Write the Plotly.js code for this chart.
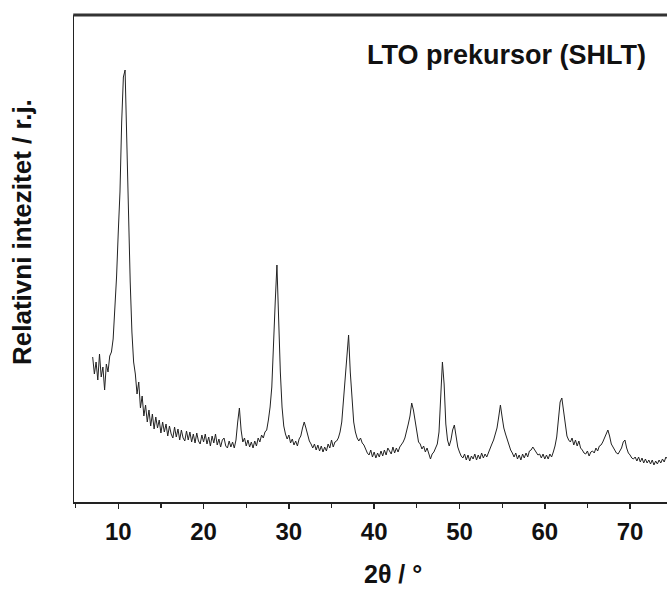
<!DOCTYPE html>
<html>
<head>
<meta charset="utf-8">
<script src="https://cdn.plot.ly/plotly-3.0.1.min.js"></script>
<style>html,body{margin:0;padding:0;background:#fff;}#chart{width:667px;height:592px;}</style>
</head>
<body>
<div id="chart"></div>
<script>
// 2θ scan positions (degrees)
const twoTheta = [
7.0,7.2,7.4,7.6,7.8,8.0,8.2,8.4,8.6,8.8,9.0,9.2,9.4,9.6,9.8,10.0,10.2,10.4,10.6,10.8,
11.0,11.2,11.4,11.6,11.8,12.0,12.2,12.4,12.6,12.8,13.0,13.2,13.4,13.6,13.8,14.0,14.2,14.4,14.6,14.8,
15.0,15.2,15.4,15.6,15.8,16.0,16.2,16.4,16.6,16.8,17.0,17.2,17.4,17.6,17.8,18.0,18.2,18.4,18.6,18.8,
19.0,19.2,19.4,19.6,19.8,20.0,20.2,20.4,20.6,20.8,21.0,21.2,21.4,21.6,21.8,22.0,22.2,22.4,22.6,22.8,
23.0,23.2,23.4,23.6,23.8,24.0,24.2,24.4,24.6,24.8,25.0,25.2,25.4,25.6,25.8,26.0,26.2,26.4,26.6,26.8,
27.0,27.2,27.4,27.6,27.8,28.0,28.2,28.4,28.6,28.8,29.0,29.2,29.4,29.6,29.8,30.0,30.2,30.4,30.6,30.8,
31.0,31.2,31.4,31.6,31.8,32.0,32.2,32.4,32.6,32.8,33.0,33.2,33.4,33.6,33.8,34.0,34.2,34.4,34.6,34.8,
35.0,35.2,35.4,35.6,35.8,36.0,36.2,36.4,36.6,36.8,37.0,37.2,37.4,37.6,37.8,38.0,38.2,38.4,38.6,38.8,
39.0,39.2,39.4,39.6,39.8,40.0,40.2,40.4,40.6,40.8,41.0,41.2,41.4,41.6,41.8,42.0,42.2,42.4,42.6,42.8,
43.0,43.2,43.4,43.6,43.8,44.0,44.2,44.4,44.6,44.8,45.0,45.2,45.4,45.6,45.8,46.0,46.2,46.4,46.6,46.8,
47.0,47.2,47.4,47.6,47.8,48.0,48.2,48.4,48.6,48.8,49.0,49.2,49.4,49.6,49.8,50.0,50.2,50.4,50.6,50.8,
51.0,51.2,51.4,51.6,51.8,52.0,52.2,52.4,52.6,52.8,53.0,53.2,53.4,53.6,53.8,54.0,54.2,54.4,54.6,54.8,
55.0,55.2,55.4,55.6,55.8,56.0,56.2,56.4,56.6,56.8,57.0,57.2,57.4,57.6,57.8,58.0,58.2,58.4,58.6,58.8,
59.0,59.2,59.4,59.6,59.8,60.0,60.2,60.4,60.6,60.8,61.0,61.2,61.4,61.6,61.8,62.0,62.2,62.4,62.6,62.8,
63.0,63.2,63.4,63.6,63.8,64.0,64.2,64.4,64.6,64.8,65.0,65.2,65.4,65.6,65.8,66.0,66.2,66.4,66.6,66.8,
67.0,67.2,67.4,67.6,67.8,68.0,68.2,68.4,68.6,68.8,69.0,69.2,69.4,69.6,69.8,70.0,70.2,70.4,70.6,70.8,
71.0,71.2,71.4,71.6,71.8,72.0,72.2,72.4,72.6,72.8,73.0,73.2,73.4,73.6,73.8,74.0,74.2,74.4
];
// relative intensity (arbitrary units)
const intensity = [
145,128,140,122,148,125,135,112,138,130,146,150,163,190,225,270,310,380,425,432,
350,285,220,170,140,128,108,120,94,106,86,97,80,92,76,88,73,85,74,82,
69,80,70,78,66,76,68,64,75,65,73,62,72,64,61,71,62,70,60,68,
59,69,61,58,67,60,68,58,65,56,66,59,68,57,63,55,62,64,56,54,
61,55,60,54,62,80,94,72,60,64,56,62,55,60,54,61,56,64,60,67,
64,70,72,82,95,115,150,200,237,180,130,95,76,68,63,67,59,63,57,61,
56,63,66,74,80,74,67,61,58,54,58,52,57,51,56,50,55,51,58,54,
62,55,60,61,64,70,80,100,122,145,167,130,98,80,70,64,61,64,59,57,
53,49,47,52,45,50,44,49,45,51,46,52,47,54,51,48,55,49,54,50,
55,57,60,64,70,78,86,99,92,80,68,60,58,53,56,50,54,47,43,48,
50,54,58,70,100,140,118,78,62,56,62,72,77,63,55,50,46,44,48,42,
47,41,46,43,48,42,47,43,49,44,48,45,50,54,58,62,68,74,85,97,
85,74,68,62,56,52,49,45,49,43,47,42,48,44,49,45,51,52,55,52,
50,47,48,44,48,43,47,43,48,45,50,56,65,85,100,104,90,74,66,62,
60,64,57,62,56,61,54,52,49,48,51,46,50,51,49,54,51,56,57,60,
64,68,72,66,58,55,52,49,48,51,54,60,62,54,49,47,44,43,45,41,
45,40,44,39,43,39,42,38,42,37,41,38,42,39,43,40,45,43
];
const xTickVals = [10,20,30,40,50,60,70];
const xTickText = ['10','20','30','40','50','60','70'];
const chartTitle = 'LTO prekursor (SHLT)';
const xTitle = '2θ / °';
const yTitle = 'Relativni intezitet / r.j.';

const FONT = 'Liberation Sans, Arial, sans-serif';
const W = 667, H = 592, ML = 74, MR = 0, MT = 15, MB = 90;
const plotW = W - ML - MR, plotH = H - MT - MB;
const px = v => (v - ML) / plotW;
const py = v => (H - MB - v) / plotH;

const trace = {
  x: twoTheta, y: intensity, type: 'scatter', mode: 'lines',
  line: {color: '#222', width: 1}, hoverinfo: 'skip'
};

const layout = {
  width: W, height: H,
  margin: {l: ML, r: MR, t: MT, b: MB},
  paper_bgcolor: '#fff', plot_bgcolor: '#fff',
  showlegend: false,
  xaxis: {
    range: [4.81, 74.33], showgrid: false, zeroline: false,
    showline: true, linecolor: '#222', linewidth: 1.5,
    ticks: 'outside', ticklen: 5, tickwidth: 1.5, tickcolor: '#222',
    tickvals: xTickVals, ticktext: xTickText,
    minor: {dtick: 5, tick0: 0, ticks: 'outside', ticklen: 4, tickwidth: 1.2, tickcolor: '#222', showgrid: false},
    tickfont: {family: FONT, size: 24, color: '#111', weight: 'bold'},
    ticklabelstandoff: 3
  },
  yaxis: {
    range: [0, plotH], showgrid: false, zeroline: false,
    showline: true, linecolor: '#222', linewidth: 1.5,
    showticklabels: false, ticks: ''
  },
  shapes: [
    {type: 'line', xref: 'paper', yref: 'paper', x0: -0.0013, x1: 1, y0: 1, y1: 1,
     line: {color: '#333', width: 3}}
  ],
  annotations: [
    {text: chartTitle, xref: 'paper', yref: 'paper', x: px(648), y: py(55),
     xanchor: 'right', yanchor: 'middle', showarrow: false,
     font: {family: FONT, size: 27, color: '#111', weight: 'bold'}},
    {text: xTitle, xref: 'paper', yref: 'paper', x: px(393), y: py(574),
     xanchor: 'center', yanchor: 'middle', showarrow: false,
     font: {family: FONT, size: 25, color: '#111', weight: 'bold'}},
    {text: yTitle, xref: 'paper', yref: 'paper', x: px(22), y: py(232),
     xanchor: 'center', yanchor: 'middle', showarrow: false, textangle: -90,
     font: {family: FONT, size: 26, color: '#111', weight: 'bold'}}
  ]
};

Plotly.newPlot('chart', [trace], layout, {staticPlot: true, displayModeBar: false});
</script>
</body>
</html>
